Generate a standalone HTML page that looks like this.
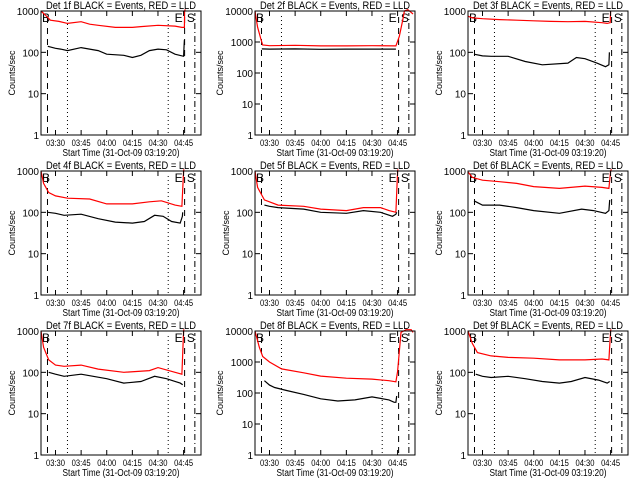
<!DOCTYPE html>
<html><head><meta charset="utf-8"><style>
html,body{margin:0;padding:0;background:#fff;}
svg{display:block;font-family:"Liberation Sans",sans-serif;}
</style></head><body>
<svg id="chart" width="640" height="480" viewBox="0 0 640 480"></svg>
<script>
// time values in minutes after 03:00
const tickMinutes = [30, 45, 60, 75, 90, 105];
const tickLabels = ["03:30","03:45","04:00","04:15","04:30","04:45"];
const markerMinutes = [25.3, 37, 96, 105.6, 111.6];
const detNames = ["1f","2f","3f","4f","5f","6f","7f","8f","9f"];
const decades = [3,4,3,3,3,3,3,4,3];

const redT = [
 [21.5,24,27,32,37,45,50,55,65,75,80,90,100,104,105.5,105.6,106],
 [21.5,23,25,26,30,45,60,75,90,104,106,108,109,111,113,114],
 [21.5,24,30,40,50,60,70,80,90,100,103,104.8,105],
 [21.5,23,26,30,37,50,60,75,85,92,100,104,105,105.2],
 [21.5,23,27,35,50,60,75,85,95,100,104,105,105.2],
 [21.5,24,30,40,50,60,75,90,100,104,105,105.5],
 [21.5,23,26,30,35,45,55,70,85,90,100,104,105,105.2],
 [21.5,24,26,30,37,50,60,75,90,100,104,105,107,110,113,114],
 [21.5,24,27,35,45,60,75,90,100,104,105,105.2]
];
const redV = [
 [1000,800,600,560,500,550,480,450,400,400,420,450,430,400,400,1000,1100],
 [10000,3000,1200,800,760,780,750,750,760,750,1500,5000,10000,11000,9000,8000],
 [750,680,650,620,600,580,560,550,560,520,500,520,1000],
 [1000,500,300,250,220,210,160,160,180,190,150,140,1000,1100],
 [1000,400,200,150,140,120,110,130,130,110,100,1000,1100],
 [950,700,600,550,500,420,380,430,400,380,1000,1100],
 [1000,400,200,150,140,150,120,100,110,130,100,90,1000,1100],
 [10000,3000,1500,1000,600,450,350,300,280,250,230,500,9000,11000,11000,9000],
 [1000,500,300,250,230,220,200,200,210,200,1000,1100]
];
const blackT = [
 [25.5,30,33,37,45,55,60,70,75,80,85,90,95,100,105,105.3,105.5],
 [25.5,30,45,60,75,90,104],
 [25,30,35,45,55,65,80,85,90,97,102,104,104.3],
 [25.5,30,35,45,55,65,75,82,88,93,98,103,104.3,104.5],
 [27,30,35,50,60,75,85,95,102,104,104.5],
 [25,30,40,50,60,75,88,95,102,104,104.5],
 [26,30,35,45,60,70,80,88,95,103,104.5],
 [27,30,33,40,50,60,70,80,90,100,103,104,104.5],
 [26,30,35,45,55,65,75,82,90,98,103,104.5]
];
const blackV = [
 [140,125,120,110,130,110,90,85,75,85,110,120,115,90,80,150,200],
 [600,590,600,580,590,590,590],
 [90,82,80,80,60,50,55,75,70,55,45,50,100],
 [100,95,85,90,70,58,55,60,85,80,60,55,80,100],
 [150,140,130,120,100,95,110,100,80,90,100],
 [190,150,150,130,110,95,120,110,95,110,200],
 [100,90,80,90,70,55,60,80,70,55,50],
 [250,180,150,120,90,65,55,60,75,60,50,50,80],
 [90,80,75,80,70,60,55,60,75,65,55,60]
];

const NS="http://www.w3.org/2000/svg";
const svg=document.getElementById("chart");
function mk(tag,attrs,parent){const e=document.createElementNS(NS,tag);for(const k in attrs)e.setAttribute(k,attrs[k]);(parent||svg).appendChild(e);return e;}
const colLeft=[41,255,468], rowTop=[11,171,331], W=160, H=124;
const tMin=21.5, tMax=115.2;

for(let p=0;p<9;p++){
  const col=p%3,row=Math.floor(p/3);
  const L=colLeft[col],T=rowTop[row],nd=decades[p];
  const xs=t=>L+(t-tMin)/(tMax-tMin)*W;
  const ys=v=>T+H-Math.log10(Math.max(v,1))/nd*H;
  const g=mk("g",{});
  
  
  const title=mk("text",{x:L+W/2,y:T-2,"text-anchor":"middle","font-size":"11",textLength:"150",lengthAdjust:"spacingAndGlyphs"},g);
  title.textContent="Det "+detNames[p]+" BLACK = Events, RED = LLD";
  
  
  const styles=["6,5","1,3","1,3","6,5","6,3,1,3"];
  markerMinutes.forEach((m,i)=>{
    const ln=mk("line",{x1:xs(m),x2:xs(m),y1:T+H-2,y2:T+2,stroke:"#000","stroke-width":1,"stroke-dasharray":styles[i]},g);
    
    
  });
  [["B",L+1],["E",xs(markerMinutes[3])-10],["S",xs(markerMinutes[4])-8]].forEach(([s,x])=>{
    const tx=mk("text",{x:x,y:T+11,"font-size":"12"},g);
    tx.textContent=s;
    
    
  });
  const rp=redT[p].map((t,i)=>xs(t).toFixed(1)+","+ys(redV[p][i]).toFixed(1)).join(" ");
  const r=mk("polyline",{points:rp,fill:"none",stroke:"#f00","stroke-width":1.2},g);
  
  
  const bp=blackT[p].map((t,i)=>xs(t).toFixed(1)+","+ys(blackV[p][i]).toFixed(1)).join(" ");
  const b=mk("polyline",{points:bp,fill:"none",stroke:"#000","stroke-width":1.2},g);
  
  
  const fr=mk("rect",{x:L,y:T,width:W,height:H,fill:"none",stroke:"#000","stroke-width":1},g);
  
  
  for(let d=0;d<=nd;d++){
    const y=ys(Math.pow(10,d));
    mk("line",{x1:L,x2:L+5,y1:y,y2:y,stroke:"#000"},g);
    mk("line",{x1:L+W,x2:L+W-5,y1:y,y2:y,stroke:"#000"},g);
    const yl=mk("text",{x:L-2,y:y+4,"text-anchor":"end","font-size":"10"},g);
    yl.textContent=String(Math.pow(10,d));
    
    
  }
  tickMinutes.forEach((m,i)=>{
    const x=xs(m);
    mk("line",{x1:x,x2:x,y1:T+H,y2:T+H-5,stroke:"#000"},g);
    mk("line",{x1:x,x2:x,y1:T,y2:T+5,stroke:"#000"},g);
    const xl=mk("text",{x:x,y:T+H+11,"text-anchor":"middle","font-size":"9",textLength:"19",lengthAdjust:"spacingAndGlyphs"},g);
    xl.textContent=tickLabels[i];
    
    
  });
  const xt=mk("text",{x:L+W/2,y:T+H+21,"text-anchor":"middle","font-size":"10",textLength:"117",lengthAdjust:"spacingAndGlyphs"},g);
  xt.textContent="Start Time (31-Oct-09 03:19:20)";
  
  
  const yt=mk("text",{x:0,y:0,"text-anchor":"middle","font-size":"9",transform:`translate(${L-(nd==4?32:26)},${T+H/2}) rotate(-90)`},g);
  yt.textContent="Counts/sec";
  
  
}
</script>
</body></html>
